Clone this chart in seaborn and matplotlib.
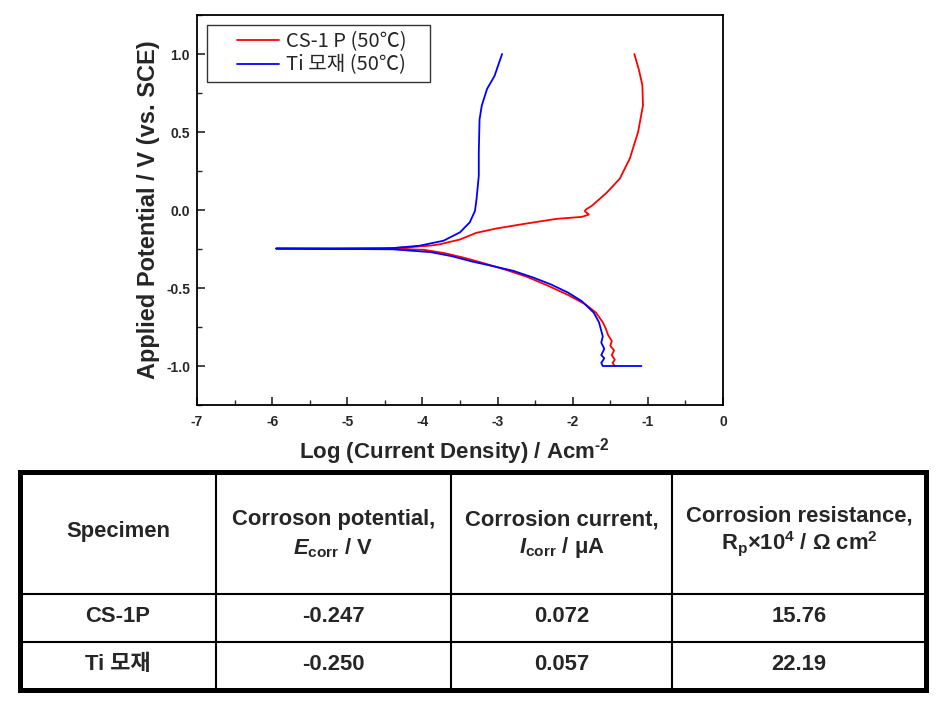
import seaborn as sns
import pandas as pd
import matplotlib.pyplot as plt
from matplotlib.ticker import MultipleLocator, FormatStrFormatter
from matplotlib.patches import Rectangle
from matplotlib.legend_handler import HandlerLine2D


# polarization curves (log i, E)
cs_label = 'CS-1 P (50℃)'
cs_logi = [-1.44, -1.47, -1.44, -1.48, -1.45, -1.50, -1.48, -1.53, -1.56, -1.60, -1.69,
           -1.83, -2.06, -2.33, -2.60, -2.88, -3.155, -3.43, -3.71, -3.98, -4.48,
           -4.16, -3.89, -3.77, -3.50, -3.28, -3.01, -2.62, -2.22, -1.877, -1.785,
           -1.84, -1.82, -1.75, -1.55, -1.375, -1.24, -1.13, -1.065, -1.073, -1.12, -1.18]
cs_e = [-1.0, -0.98, -0.96, -0.93, -0.90, -0.87, -0.84, -0.80, -0.76, -0.72, -0.658,
        -0.605, -0.545, -0.485, -0.43, -0.385, -0.345, -0.308, -0.276, -0.255, -0.247,
        -0.238, -0.228, -0.22, -0.189, -0.146, -0.118, -0.087, -0.057, -0.044, -0.029,
        -0.007, 0.005, 0.025, 0.11, 0.20, 0.33, 0.50, 0.67, 0.80, 0.90, 1.0]

ti_label = 'Ti 모재 (50℃)'
ti_logi = [-1.085, -1.60, -1.62, -1.58, -1.62, -1.58, -1.62, -1.60, -1.65, -1.72, -1.88,
           -2.06, -2.29, -2.52, -2.79, -3.06, -3.34, -3.61, -3.89, -4.40, -5.95,
           -4.39, -4.04, -3.72, -3.50, -3.37, -3.30, -3.28, -3.25, -3.25, -3.24,
           -3.21, -3.14, -3.04, -2.94]
ti_e = [-1.0, -1.0, -0.98, -0.95, -0.93, -0.89, -0.85, -0.81, -0.72, -0.658, -0.584,
        -0.53, -0.477, -0.434, -0.39, -0.36, -0.33, -0.296, -0.27, -0.252, -0.247,
        -0.244, -0.229, -0.197, -0.143, -0.079, -0.005, 0.07, 0.22, 0.37, 0.58,
        0.67, 0.776, 0.86, 1.0]

# table values
specimens = ['CS-1P', 'Ti 모재']
ecorr = [-0.247, -0.250]
icorr = [0.072, 0.057]
rp = [15.76, 22.19]

df = pd.concat([
    pd.DataFrame({'logi': cs_logi, 'E': cs_e, 'Specimen': cs_label}),
    pd.DataFrame({'logi': ti_logi, 'E': ti_e, 'Specimen': ti_label}),
], ignore_index=True)


# legend line drawn only on the right part of the handle box (extra left padding)
class PaddedLine(HandlerLine2D):
    def create_artists(self, legend, orig_handle, xdescent, ydescent, width, height, fontsize, trans):
        pad = width * 0.36
        return super().create_artists(legend, orig_handle, xdescent - pad, ydescent,
                                      width - pad, height, fontsize, trans)


sns.set_theme(style='ticks')
plt.rcParams['font.family'] = ['Liberation Sans', 'Noto Sans CJK KR']
plt.rcParams['axes.unicode_minus'] = False
plt.rcParams['mathtext.fontset'] = 'custom'
plt.rcParams['mathtext.rm'] = 'Liberation Sans:bold'
plt.rcParams['mathtext.it'] = 'Liberation Sans:italic:bold'
plt.rcParams['mathtext.bf'] = 'Liberation Sans:bold'

fig = plt.figure(figsize=(9.46, 7.06), dpi=100)
ax = fig.add_axes([197 / 946, 1 - 405 / 706, 526 / 946, 390 / 706])

sns.lineplot(data=df, x='logi', y='E', hue='Specimen', sort=False, estimator=None,
             palette={cs_label: '#ff0000', ti_label: '#0000ff'}, linewidth=1.3, ax=ax)

ax.set_xlim(-7, 0)
ax.set_ylim(-1.25, 1.25)
ax.xaxis.set_major_locator(MultipleLocator(1))
ax.xaxis.set_minor_locator(MultipleLocator(0.5))
ax.yaxis.set_major_locator(MultipleLocator(0.5))
ax.yaxis.set_minor_locator(MultipleLocator(0.25))
ax.yaxis.set_major_formatter(FormatStrFormatter('%.1f'))
ax.tick_params(which='major', direction='in', length=6, width=1.2, labelsize=10, pad=7)
ax.tick_params(which='minor', direction='in', length=3.5, width=1.0)
ax.tick_params(axis='y', pad=5)
for label in ax.get_xticklabels() + ax.get_yticklabels():
    label.set_fontweight('bold')
for sp in ax.spines.values():
    sp.set_linewidth(1.3)
    sp.set_color('black')

ax.set_xlabel(r'Log (Current Density) / Acm$^{\text{-2}}$', fontsize=16, fontweight='bold')
ax.set_ylabel('Applied Potential / V (vs. SCE)', fontsize=17, fontweight='bold')
ax.xaxis.set_label_coords(0.49, -0.08)
ax.yaxis.set_label_coords(-0.07, 0.5)

handles, labels = ax.get_legend_handles_labels()
leg = ax.legend(handles=handles, labels=[l + '    ' for l in labels], loc='upper left',
                bbox_to_anchor=(0.019, 0.974), borderaxespad=0, frameon=True, fancybox=False,
                edgecolor='black', prop={'family': ['Noto Sans CJK KR'], 'size': 14.5},
                handlelength=3.3, handletextpad=0.3, borderpad=0.3, labelspacing=0.12,
                handler_map={h: PaddedLine() for h in handles})
leg.get_frame().set_linewidth(1.0)

# table below the chart, laid out in pixel units
tax = fig.add_axes([0, 0, 1, 1], zorder=-1)
tax.set_xlim(0, 946)
tax.set_ylim(706, 0)
tax.axis('off')

tax.add_patch(Rectangle((20, 472), 906, 218, fill=False, edgecolor='black', linewidth=3.6))
for xv in [216, 451, 672]:
    tax.plot([xv, xv], [472, 690], color='black', linewidth=1.5)
for yv in [594, 641.5]:
    tax.plot([20, 926], [yv, yv], color='black', linewidth=1.5)

col_x = [118, 333.5, 561.5, 799]
tkw = dict(ha='center', va='center', fontsize=15.8, fontweight='bold')
tax.text(col_x[0], 532, 'Specimen', **tkw)
tax.text(col_x[1], 520, 'Corroson potential,', **tkw)
tax.text(col_x[1], 548, r'$E_{\mathrm{corr}}$ / V', **tkw)
tax.text(col_x[2], 520, 'Corrosion current,', **tkw)
tax.text(col_x[2], 548, r'$I_{\mathrm{corr}}$ / μA', **tkw)
tax.text(col_x[3], 516, 'Corrosion resistance,', **tkw)
tax.text(col_x[3], 543, r'R$_{\mathrm{p}}$×10$^{\mathrm{4}}$ / Ω cm$^{\mathrm{2}}$', **tkw)

row_y = [617, 664]
for i, name in enumerate(specimens):
    tax.text(col_x[0], row_y[i], name, **tkw)
    tax.text(col_x[1], row_y[i], f'{ecorr[i]:.3f}', **tkw)
    tax.text(col_x[2], row_y[i], f'{icorr[i]:.3f}', **tkw)
    tax.text(col_x[3], row_y[i], f'{rp[i]:.2f}', **tkw)

fig.savefig('out.png', dpi=100)
